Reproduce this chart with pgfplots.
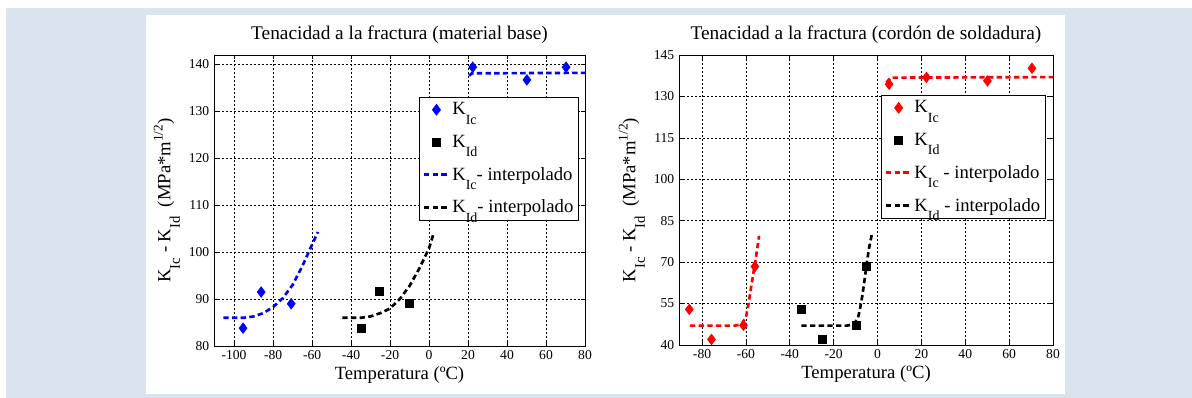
\documentclass[border=0pt]{standalone}
\usepackage{fontspec}
\setmainfont{Liberation Serif}
\usepackage{pgfplots}
\pgfplotsset{compat=1.18}
\definecolor{bgblue}{RGB}{219,227,239}
\newcommand\sub[2][10.5]{\raisebox{-0.5em}{\fontsize{#1}{#1}\selectfont #2}}
\newcommand\sups[1]{\raisebox{0.42em}{\fontsize{10}{10}\selectfont #1}}
\pgfplotsset{mystyle/.style={
  scale only axis, anchor=south west,
  axis line style={black, line width=0.6pt},
  grid=major,
  major grid style={black, dash pattern=on 1.5pt off 1.5pt, line width=0.5pt},
  tick align=inside, tick pos=both, major tick length=3pt,
  tick style={black, line width=0.5pt},
  ticklabel style={font=\fontsize{10.2}{12}\selectfont},
  /pgf/number format/assume math mode=true,
  label style={font=\fontsize{14}{16}\selectfont},
  every axis title/.style={font=\fontsize{14.5}{16}\selectfont, at={(0.5,1)}, anchor=center, yshift=15pt},
  legend style={draw=black, line width=0.6pt, font=\fontsize{14}{16}\selectfont,
     anchor=north east, row sep=10.5pt, inner sep=2.5pt, fill=white,
     nodes={inner sep=1.5pt},
     /tikz/every even column/.append style={column sep=0pt}},
  legend cell align=left,
  linelegend/.style={legend image code/.code={\draw[##1] (0cm,0cm) -- (0.66cm,0cm);}},
  marklegend/.style={legend image code/.code={\draw[##1] plot coordinates {(0.33cm,0cm)};}},
}}
\begin{document}
\begin{tikzpicture}
\fill[white] (0,0) rectangle (894pt,298.5pt);
\fill[bgblue] (4.5pt,0) rectangle (894pt,292.5pt);
\fill[white] (109.5pt,3pt) rectangle (798.75pt,287.25pt);
% Left plot
\begin{axis}[mystyle, at={(160.5pt,39pt)}, width=278.25pt, height=218.25pt,
  xmin=-110.3, xmax=80, ymin=80, ymax=142,
  xtick={-100,-80,...,80}, ytick={80,90,...,140},
  title={Tenacidad a la fractura (material base)},
  xlabel={Temperatura (ºC)},
  ylabel={K\sub[11]{Ic} - K\sub[11]{Id}\ \ (MPa*m\sups{1/2})},
  xlabel style={at={(axis description cs:0.5,-0.1)}, anchor=center},
  ylabel style={at={(axis description cs:-0.127,0.5)}, anchor=center},
  legend style={at={(axis description cs:0.984,0.856)}},
]
\addplot[only marks, mark=diamond*, blue, mark size=4pt, marklegend] coordinates {
(-95.4,83.8) (-86.1,91.5) (-70.7,89.0) (22.4,139.4) (50.2,136.7) (70.3,139.4)};
\addlegendentry{K\sub{Ic}}
\addplot[only marks, mark=square*, black, mark size=3pt, marklegend] coordinates {
(-34.8,83.8) (-25.4,91.7) (-10.1,89.1)};
\addlegendentry{K\sub{Id}}
\addplot[blue, line width=2pt, dash pattern=on 4pt off 2.5pt, linelegend] coordinates {
(-105.5,86) (-95,86) (-90,86.3) (-85,87) (-80,88.3) (-75,90.2) (-70,93) (-65,97) (-60,101.6) (-57,104.3)};
\addlegendentry{K\sub{Ic}- interpolado}
\addplot[black, line width=2pt, dash pattern=on 4pt off 2.5pt, linelegend] coordinates {
(-44.5,86) (-35,86) (-30,86.3) (-25,87) (-20,88) (-15,90) (-10,92.8) (-5,96.5) (0,100.8) (2.5,104.2)};
\addlegendentry{K\sub{Id}- interpolado}
\addplot[forget plot, blue, line width=2pt, dash pattern=on 4pt off 2.5pt] coordinates {
(20.5,137.6) (22,138.1) (80,138.2)};
\end{axis}
% Right plot
\begin{axis}[mystyle, at={(509.25pt,39.75pt)}, width=280.5pt, height=217.5pt,
  xmin=-90.5, xmax=80, ymin=40, ymax=145,
  xtick={-80,-60,...,80}, ytick={40,55,...,145},
  title={Tenacidad a la fractura (cordón de soldadura)},
  xlabel={Temperatura (ºC)},
  ylabel={K\sub[11]{Ic} - K\sub[11]{Id}\ \ (MPa*m\sups{1/2})},
  xlabel style={at={(axis description cs:0.5,-0.1)}, anchor=center},
  ylabel style={at={(axis description cs:-0.126,0.5)}, anchor=center},
  legend style={at={(axis description cs:0.981,0.862)}},
]
\addplot[only marks, mark=diamond*, red, mark size=4pt, marklegend] coordinates {
(-85.8,52.9) (-75.7,42.0) (-61.1,47.1) (-55.9,68.4) (5.3,134.4) (22.3,136.9) (50.1,135.6) (70.4,140.2)};
\addlegendentry{K\sub{Ic}}
\addplot[only marks, mark=square*, black, mark size=3pt, marklegend] coordinates {
(-34.7,52.9) (-25.1,42.0) (-9.7,47.0) (-5.0,68.4)};
\addlegendentry{K\sub{Id}}
\addplot[red, line width=2pt, dash pattern=on 4pt off 2.5pt, linelegend] coordinates {
(-85.5,47) (-65,47) (-62,47.5) (-60,50) (-59,54) (-58,59) (-57,64) (-56,69) (-55,74) (-54,79.5)};
\addlegendentry{K\sub{Ic} - interpolado}
\addplot[black, line width=2pt, dash pattern=on 4pt off 2.5pt, linelegend] coordinates {
(-34.7,47) (-14,47) (-11,47.5) (-9,49.5) (-8,53) (-7,57.5) (-6,63) (-5,69) (-4,74.5) (-2.5,80.5)};
\addlegendentry{K\sub{Id} - interpolado}
\addplot[forget plot, red, line width=2pt, dash pattern=on 4pt off 2.5pt] coordinates {
(4,135) (6,136.8) (80,137)};
\end{axis}
\end{tikzpicture}
\end{document}
